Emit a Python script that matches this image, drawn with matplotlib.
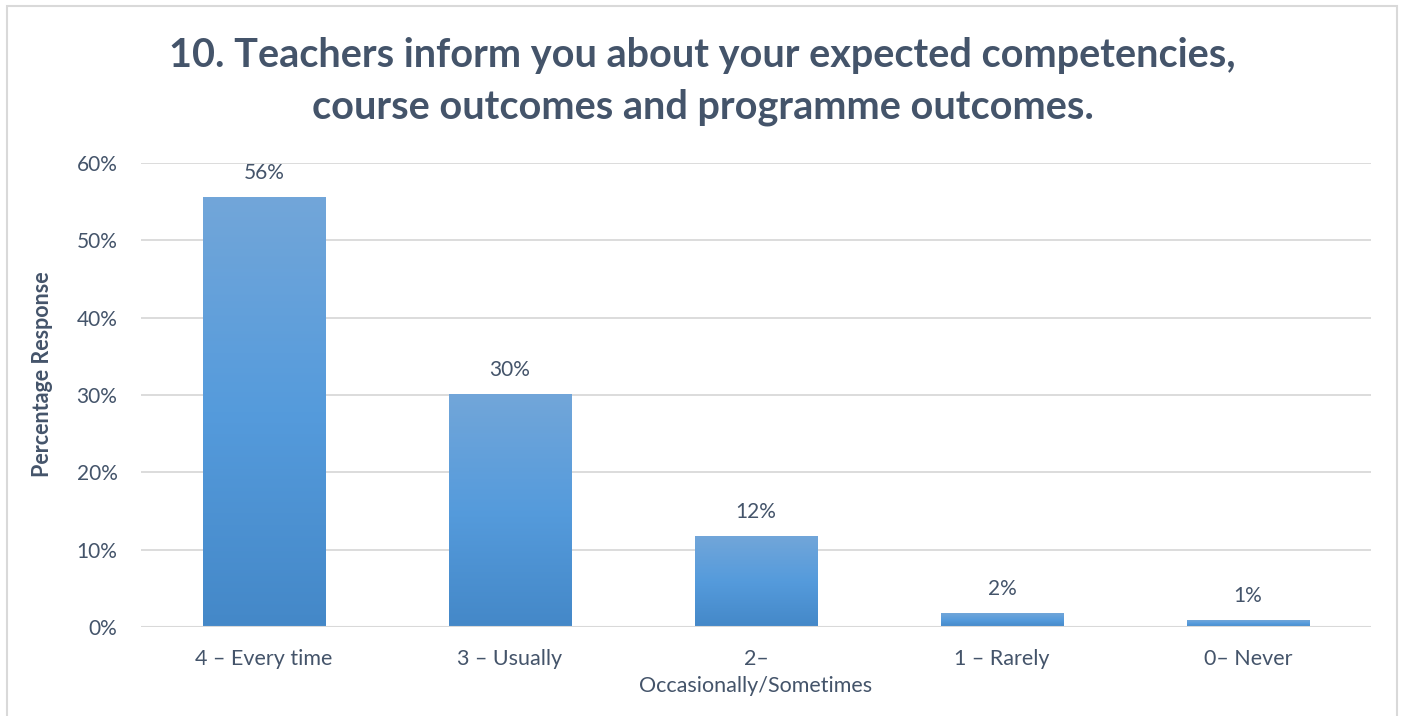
import numpy as np
import matplotlib.pyplot as plt
from matplotlib.colors import LinearSegmentedColormap
from matplotlib.patches import Rectangle
from matplotlib.ticker import PercentFormatter

categories = ["4 – Every time", "3 – Usually", "2–\nOccasionally/Sometimes", "1 – Rarely", "0– Never"]
values = [0.556, 0.301, 0.118, 0.018, 0.009]
yticks = [0.0, 0.1, 0.2, 0.3, 0.4, 0.5, 0.6]

title = "10. Teachers inform you about your expected competencies,\ncourse outcomes and programme outcomes."
ylabel = "Percentage Response"

text_col = "#44546A"
grid_col = "#D9D9D9"
plt.rcParams['font.family'] = ['Lato', 'DejaVu Sans']

fig = plt.figure(figsize=(14.05, 7.16), dpi=100)
ax = fig.add_axes([0.1004, 0.1243, 0.8754, 0.648])

x = np.arange(len(categories))
bars = ax.bar(x, values, width=0.5, color="none", zorder=3)

# vertical gradient for each bar, clipped to the bar rectangle
cmap = LinearSegmentedColormap.from_list("bar", ["#4488C8", "#559BDC", "#72A6D9"])
grad = np.linspace(0, 1, 256).reshape(-1, 1)
for b in bars:
    x0, y0 = b.get_x(), b.get_y()
    w, h = b.get_width(), b.get_height()
    im = ax.imshow(grad, cmap=cmap, origin="lower", aspect="auto",
                   extent=[x0, x0 + w, y0, y0 + h], zorder=3)
    im.set_clip_path(b)
    ax.annotate(f"{h*100:.0f}%", (x0 + w / 2, h), xytext=(0, 10),
                textcoords="offset points", ha="center", va="bottom",
                fontsize=15, color=text_col)

ax.set_xlim(-0.5, len(categories) - 0.5)
ax.set_ylim(0, 0.6)
ax.set_yticks(yticks)
ax.yaxis.set_major_formatter(PercentFormatter(1.0, decimals=0))
ax.set_xticks(x)
ax.set_xticklabels(categories, fontsize=15.5, color=text_col, linespacing=1.45)
ax.tick_params(axis="y", length=0, pad=17, labelsize=15, labelcolor=text_col)
ax.tick_params(axis="x", length=0, pad=16)
ax.grid(axis="y", color=grid_col, lw=1.3, zorder=0)
for s in ax.spines.values():
    s.set_visible(False)
ax.axhline(0, color=grid_col, lw=1.5, zorder=4)

ax.set_ylabel(ylabel, fontsize=15.5, fontweight="bold", color=text_col)
ax.yaxis.set_label_coords(-0.072, 0.545)
fig.text(0.5, 0.886, title, ha="center", va="center", fontsize=28.5,
         fontweight="bold", color=text_col, linespacing=1.5)

# light border around the chart area
fig.patches.append(Rectangle((0.005, -0.01), 0.989, 1.001, transform=fig.transFigure,
                             fill=False, edgecolor="#D9D9D9", lw=1.5))

fig.savefig("out.png", dpi=100)
